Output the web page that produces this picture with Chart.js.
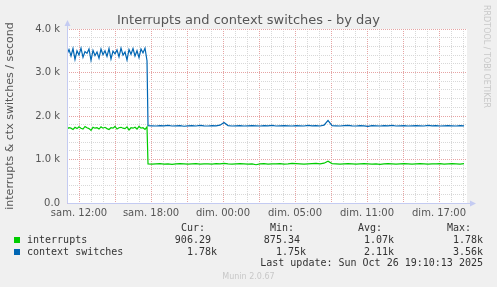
<!DOCTYPE html>
<html>
<head>
<meta charset="utf-8">
<script src="https://cdn.jsdelivr.net/npm/chart.js@4/dist/chart.umd.min.js"></script>
<style>
  body { margin: 0; background: #f0f0f0; }
  #wrap { position: relative; width: 497px; height: 287px; overflow: hidden; }
  #c { position: absolute; left: 0; top: 0; }
  .t { position: absolute; font: 10px "DejaVu Sans Mono", monospace; color: #333; white-space: pre; line-height: 12px; }
  .sq { position: absolute; width: 6px; height: 6px; }
</style>
</head>
<body>
<div id="wrap">
  <canvas id="c" width="497" height="287"></canvas>
  <div id="legend"></div>
</div>
<script>
// x axis in hours, 0 = sam. 11:00
const hourTicks = { 1: "sam. 12:00", 7: "sam. 18:00", 13: "dim. 00:00", 19: "dim. 05:00", 25: "dim. 11:00", 31: "dim. 17:00" };
const spanHours = 33.33;

// busy part: 10 min steps starting at hour 0
const busyCtx = [3420, 3530, 3380, 3550, 3300, 3500, 3400, 3560, 3350, 3480, 3440, 3540, 3280, 3510, 3390, 3470, 3330, 3540, 3410, 3500,
                 3370, 3550, 3310, 3490, 3430, 3520, 3360, 3560, 3400, 3470, 3290, 3530, 3420, 3550, 3380, 3500, 3340, 3540, 3450, 3560, 3270];
const busyIrq = [1700, 1730, 1720, 1690, 1740, 1710, 1750, 1720, 1700, 1760, 1730, 1710, 1670, 1740, 1720, 1730, 1700, 1750, 1720, 1740,
                 1710, 1690, 1730, 1720, 1760, 1700, 1730, 1740, 1720, 1710, 1750, 1680, 1730, 1720, 1740, 1700, 1760, 1720, 1730, 1690, 1750];
// quiet part: 20 min steps starting at hour 6.75
const calmStart = 6.75;
const calmCtx = [1780, 1775, 1770, 1780, 1775, 1785, 1770, 1775, 1780, 1765, 1775, 1780, 1770, 1785, 1775, 1770, 1780, 1775, 1790, 1850,
                 1780, 1770, 1775, 1780, 1770, 1775, 1780, 1775, 1770, 1780, 1775, 1785, 1770, 1775, 1780, 1775, 1770, 1780, 1775, 1770,
                 1785, 1775, 1780, 1770, 1790, 1900, 1780, 1775, 1770, 1780, 1785, 1775, 1770, 1780, 1775, 1760, 1780, 1775, 1770, 1780,
                 1775, 1785, 1770, 1775, 1780, 1770, 1775, 1780, 1775, 1770, 1785, 1775, 1780, 1770, 1775, 1780, 1775, 1770, 1780, 1775];
const calmIrq = [900, 895, 900, 905, 895, 900, 890, 900, 905, 900, 895, 900, 905, 895, 900, 900, 895, 905, 900, 910,
                 900, 895, 900, 905, 900, 895, 900, 880, 900, 905, 895, 900, 900, 905, 895, 900, 910, 905, 900, 895,
                 900, 905, 910, 900, 915, 960, 905, 900, 895, 900, 905, 900, 895, 900, 905, 900, 895, 900, 890, 900,
                 905, 900, 895, 900, 905, 900, 895, 900, 905, 900, 895, 900, 900, 905, 895, 900, 905, 900, 895, 906];

const legendHead = ["Cur:", "Min:", "Avg:", "Max:"];
const irqStats = ["906.29 ", "875.34 ", "1.07k", "1.78k"];
const ctxStats = ["1.78k", "1.75k", "2.11k", "3.56k"];

function points(busy, calm) {
  const pts = busy.map((v, i) => ({ x: i / 6, y: v }));
  calm.forEach((v, i) => pts.push({ x: calmStart + i / 3, y: v }));
  return pts;
}

const gray = "#d8d8d8";
const red = "#e6a4a4";
const axisCol = "#c4cbf2";

const plotDecor = {
  id: "plotDecor",
  beforeDraw(chart) {
    const a = chart.chartArea, ctx = chart.ctx;
    ctx.save();
    ctx.fillStyle = "#ffffff";
    ctx.fillRect(a.left, a.top, a.right - a.left, a.bottom - a.top);
    ctx.restore();
  },
  afterDraw(chart) {
    const a = chart.chartArea, ctx = chart.ctx;
    const x0 = Math.round(a.left) + 0.5, y0 = Math.round(a.bottom) + 0.5;
    ctx.save();
    ctx.strokeStyle = axisCol;
    ctx.fillStyle = axisCol;
    ctx.lineWidth = 1;
    ctx.beginPath();
    ctx.moveTo(x0, y0); ctx.lineTo(x0, a.top - 4);
    ctx.moveTo(x0, y0); ctx.lineTo(a.right + 4, y0);
    ctx.stroke();
    ctx.beginPath();
    ctx.moveTo(x0 - 3, a.top - 3); ctx.lineTo(x0 + 3, a.top - 3); ctx.lineTo(x0, a.top - 9); ctx.closePath();
    ctx.fill();
    ctx.beginPath();
    ctx.moveTo(a.right + 3, y0 - 3); ctx.lineTo(a.right + 3, y0 + 3); ctx.lineTo(a.right + 9, y0); ctx.closePath();
    ctx.fill();
    ctx.restore();
  }
};

Chart.defaults.font.family = "'DejaVu Sans', sans-serif";
Chart.defaults.color = "#555";

new Chart(document.getElementById("c"), {
  type: "line",
  data: {
    datasets: [
      { label: "interrupts", data: points(busyIrq, calmIrq), borderColor: "#00cc00", borderWidth: 1.2, pointRadius: 0, fill: false, tension: 0 },
      { label: "context switches", data: points(busyCtx, calmCtx), borderColor: "#0066b3", borderWidth: 1.2, pointRadius: 0, fill: false, tension: 0 }
    ]
  },
  options: {
    responsive: false,
    animation: false,
    devicePixelRatio: 1,
    layout: { padding: { left: 0, right: 0, top: 0, bottom: 70 } },
    plugins: {
      legend: { display: false },
      tooltip: { enabled: false },
      title: {
        display: true,
        text: "Interrupts and context switches - by day",
        font: { size: 13, weight: "normal", lineHeight: 1.2 },
        color: "#555",
        padding: { top: 13, bottom: 0.4 }
      }
    },
    scales: {
      x: {
        type: "linear",
        min: 0,
        max: spanHours,
        afterBuildTicks(s) {
          const t = [];
          for (let h = 0; h <= 33; h++) t.push({ value: h });
          s.ticks = t;
        },
        afterFit(s) { s.height = 14; },
        ticks: {
          autoSkip: false, maxRotation: 0, minRotation: 0, padding: 4,
          font: { size: 10 },
          callback: v => hourTicks[v] || ""
        },
        grid: {
          drawTicks: false,
          color: c => (c.tick && c.tick.value % 3 === 1) ? red : gray
        },
        border: { display: false, dash: [1, 1] }
      },
      y: {
        min: 0,
        max: 4000,
        afterFit(s) { s.width = 67; },
        ticks: {
          stepSize: 200, padding: 7, autoSkip: false,
          font: { size: 10 },
          callback: v => v % 1000 !== 0 ? "" : (v === 0 ? "0.0" : (v / 1000).toFixed(1) + " k")
        },
        title: { display: true, text: "interrupts & ctx switches / second", font: { size: 11 }, color: "#555", padding: { top: 4, bottom: 4 } },
        grid: {
          drawTicks: false,
          color: c => (c.tick && c.tick.value % 1000 === 0) ? red : gray
        },
        border: { display: false, dash: [1, 1] }
      },
      r2: {
        type: "linear",
        position: "right",
        display: true,
        afterFit(s) { s.width = 30; },
        ticks: { display: false },
        grid: { display: false },
        border: { display: false }
      }
    }
  },
  plugins: [plotDecor]
});

// munin style legend, as html text
const legend = document.getElementById("legend");
function addText(txt, opts) {
  const d = document.createElement("div");
  d.className = "t";
  d.textContent = txt;
  Object.keys(opts).forEach(k => d.style[k] = opts[k]);
  legend.appendChild(d);
}
const colRight = [497 - 217, 497 - 306, 497 - 394, 497 - 483];
legendHead.forEach((h, i) => addText(h, { right: (colRight[i] + 12) + "px", top: "222px" }));
addText("interrupts", { left: "27px", top: "234px" });
addText("context switches", { left: "27px", top: "246px" });
irqStats.forEach((v, i) => addText(v, { right: colRight[i] + "px", top: "234px" }));
ctxStats.forEach((v, i) => addText(v, { right: colRight[i] + "px", top: "246px" }));
addText("Last update: Sun Oct 26 19:10:13 2025", { right: "14px", top: "257px" });

const sq1 = document.createElement("div");
sq1.className = "sq"; sq1.style.left = "14px"; sq1.style.top = "237px"; sq1.style.background = "#00cc00";
legend.appendChild(sq1);
const sq2 = document.createElement("div");
sq2.className = "sq"; sq2.style.left = "14px"; sq2.style.top = "249px"; sq2.style.background = "#0066b3";
legend.appendChild(sq2);

addText("Munin 2.0.67", { left: "0", width: "497px", textAlign: "center", top: "271px", fontFamily: "'DejaVu Sans', sans-serif", fontSize: "8px", color: "#c8c8c8" });
addText("RRDTOOL / TOBI OETIKER", { left: "482px", top: "5px", writingMode: "vertical-rl", fontFamily: "'DejaVu Sans', sans-serif", fontSize: "8px", lineHeight: "9px", color: "#c8c8c8" });
</script>
</body>
</html>
